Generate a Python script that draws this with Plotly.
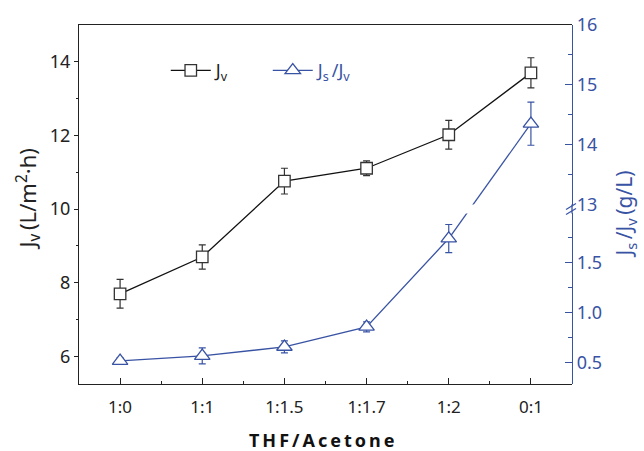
import plotly.graph_objects as go

# ---------------- data ----------------
categories = ["1:0", "1:1", "1:1.5", "1:1.7", "1:2", "0:1"]
jv = [7.70, 8.70, 10.76, 11.11, 12.02, 13.70]
jv_err = [0.39, 0.33, 0.35, 0.20, 0.39, 0.41]
ratio = [0.52, 0.57, 0.66, 0.86, 1.74, 14.35]
ratio_err = [0.03, 0.08, 0.06, 0.05, 0.14, 0.36]

left_ticks = [6, 8, 10, 12, 14]
left_minor = [7, 9, 11, 13]
lower_ticks = [0.5, 1.0, 1.5]
lower_minor = [0.75, 1.25, 1.75]
upper_ticks = [13, 14, 15, 16]
upper_minor = [13.5, 14.5, 15.5]

# ---------------- layout constants ----------------
BLUE = "#3953A4"
FONT = "Noto Sans"
L_RANGE = [0.29, 1.99]
L_DOM = [0.0, 0.475]
U_RANGE = [13.0, 16.0]
U_DOM = [0.5, 1.0]
BREAK = 13.0

xs = list(range(len(categories)))


def to_paper(v):
    if v < BREAK:
        r, d = L_RANGE, L_DOM
    else:
        r, d = U_RANGE, U_DOM
    return d[0] + (v - r[0]) / (r[1] - r[0]) * (d[1] - d[0])


def from_paper(p, r, d):
    return r[0] + (p - d[0]) / (d[1] - d[0]) * (r[1] - r[0])


lo_idx = [i for i, v in enumerate(ratio) if v < BREAK]
hi_idx = [i for i, v in enumerate(ratio) if v >= BREAK]

fig = go.Figure()

# Jv series (left axis)
fig.add_trace(go.Scatter(
    x=xs, y=jv, mode="lines+markers", name="J<sub>v</sub>",
    line=dict(color="#111111", width=1.3),
    marker=dict(symbol="square", size=11.5, color="white",
                line=dict(color="#333333", width=1.3)),
    error_y=dict(type="data", array=jv_err, color="#333333",
                 thickness=1.2, width=3.5),
    xaxis="x", yaxis="y",
))

# connecting segments that cross the axis break
for a, b in zip(xs[:-1], xs[1:]):
    va, vb = ratio[a], ratio[b]
    if (va < BREAK) != (vb < BREAK):
        pa, pb = to_paper(va), to_paper(vb)
        fig.add_trace(go.Scatter(
            x=[a, b], y=[from_paper(pa, L_RANGE, L_DOM), from_paper(pb, L_RANGE, L_DOM)],
            mode="lines", line=dict(color=BLUE, width=1.3), showlegend=False,
            hoverinfo="skip", xaxis="x", yaxis="y2"))
        fig.add_trace(go.Scatter(
            x=[a, b], y=[from_paper(pa, U_RANGE, U_DOM), from_paper(pb, U_RANGE, U_DOM)],
            mode="lines", line=dict(color=BLUE, width=1.3), showlegend=False,
            hoverinfo="skip", xaxis="x", yaxis="y3"))

tri_marker = dict(symbol="triangle-up", size=13.5, color="white",
                  line=dict(color=BLUE, width=1.3))

fig.add_trace(go.Scatter(
    x=[xs[i] for i in lo_idx], y=[ratio[i] for i in lo_idx],
    mode="lines+markers",
    name='<span style="color:%s">J<sub>s</sub>\u2009/J<sub>v</sub></span>' % BLUE,
    line=dict(color=BLUE, width=1.3), marker=tri_marker,
    error_y=dict(type="data", array=[ratio_err[i] for i in lo_idx], color=BLUE,
                 thickness=1.2, width=3.5),
    xaxis="x", yaxis="y2",
))
fig.add_trace(go.Scatter(
    x=[xs[i] for i in hi_idx], y=[ratio[i] for i in hi_idx],
    mode="lines+markers", showlegend=False,
    line=dict(color=BLUE, width=1.3), marker=tri_marker,
    error_y=dict(type="data", array=[ratio_err[i] for i in hi_idx], color=BLUE,
                 thickness=1.2, width=3.5),
    xaxis="x", yaxis="y3",
))

axis_font = dict(family=FONT, size=18, color="#222222")

fig.update_layout(
    width=644, height=451,
    margin=dict(l=79, r=72, t=22, b=67),
    paper_bgcolor="white", plot_bgcolor="rgba(0,0,0,0)",
    font=dict(family=FONT, color="#222222"),
    showlegend=True,
    legend=dict(orientation="h", x=0.176, y=0.873, xanchor="left", yanchor="middle",
                bgcolor="rgba(0,0,0,0)", font=dict(family=FONT, size=18, color="#222222"),
                itemwidth=40, entrywidth=47),
    xaxis=dict(
        range=[-0.5, len(categories) - 0.5], tickmode="array", tickvals=xs,
        ticktext=categories, ticks="inside", ticklen=6, tickwidth=1.2,
        tickcolor="#222222", showline=True, linecolor="#222222", linewidth=1.3,
        mirror=True, showgrid=False, zeroline=False,
        tickfont=dict(family=FONT, size=17, color="#222222"),
        ticklabelstandoff=7,
        minor=dict(tickmode="array", tickvals=[x + 0.5 for x in xs[:-1]],
                   ticks="inside", ticklen=3, tickcolor="#222222"),
        anchor="y", fixedrange=True,
    ),
    yaxis=dict(
        range=[5.25, 15], tickmode="array", tickvals=left_ticks,
        ticks="outside", ticklen=4, tickwidth=1.2, tickcolor="#222222",
        showline=True, linecolor="#222222", linewidth=1.3, showgrid=False,
        zeroline=False, tickfont=axis_font, domain=[0, 1], anchor="x",
        minor=dict(tickmode="array", tickvals=left_minor, ticks="outside",
                   ticklen=2, tickcolor="#222222"),
    ),
    yaxis2=dict(
        range=L_RANGE, domain=L_DOM, anchor="x", side="right",
        tickmode="array", tickvals=lower_ticks, ticktext=["0.5", "1.0", "1.5"],
        ticks="inside", ticklen=7, tickwidth=1.2, tickcolor=BLUE,
        showline=True, linecolor=BLUE, linewidth=1.3, showgrid=False,
        zeroline=False, tickfont=dict(family=FONT, size=18, color=BLUE),
        minor=dict(tickmode="array", tickvals=lower_minor, ticks="inside",
                   ticklen=4, tickcolor=BLUE),
    ),
    yaxis3=dict(
        range=U_RANGE, domain=U_DOM, anchor="x", side="right",
        tickmode="array", tickvals=upper_ticks,
        ticks="inside", ticklen=7, tickwidth=1.2, tickcolor=BLUE,
        showline=True, linecolor=BLUE, linewidth=1.3, showgrid=False,
        zeroline=False, tickfont=dict(family=FONT, size=18, color=BLUE),
        minor=dict(tickmode="array", tickvals=upper_minor, ticks="inside",
                   ticklen=4, tickcolor=BLUE),
    ),
)

# right axis gap filler and break marks
mid = (L_DOM[1] + U_DOM[0]) / 2
fig.add_shape(type="line", xref="paper", yref="paper", x0=1, x1=1,
              y0=L_DOM[1], y1=U_DOM[0], line=dict(color=BLUE, width=1.3))
for off in (-2.5, 2.5):
    fig.add_shape(type="line", xref="paper", yref="paper",
                  xsizemode="pixel", ysizemode="pixel", xanchor=1, yanchor=mid,
                  x0=-6, x1=4, y0=off - 3, y1=off + 3,
                  line=dict(color=BLUE, width=1.2))

# axis titles
fig.add_annotation(text="J<sub>v</sub>\u2009(L/m<sup>2</sup>·h)", xref="paper", yref="paper",
                   x=0, y=0.514, xshift=-51, textangle=-90, showarrow=False,
                   xanchor="center", yanchor="middle",
                   font=dict(family=FONT, size=22, color="#222222"))
fig.add_annotation(text="J<sub>s</sub>\u2009/J<sub>v</sub>\u2009(g/L)", xref="paper", yref="paper",
                   x=1, y=0.472, xshift=53, textangle=-90, showarrow=False,
                   xanchor="center", yanchor="middle",
                   font=dict(family=FONT, size=21, color=BLUE))
fig.add_annotation(text="<b>T\u2009H\u2009F\u2009/\u2009A\u2009c\u2009e\u2009t\u2009o\u2009n\u2009e</b>",
                   xref="paper", yref="paper", x=0.492, y=0, yshift=-56,
                   showarrow=False, xanchor="center", yanchor="middle",
                   font=dict(family=FONT, size=18, color="#111111"))

fig.write_html("out.html")
